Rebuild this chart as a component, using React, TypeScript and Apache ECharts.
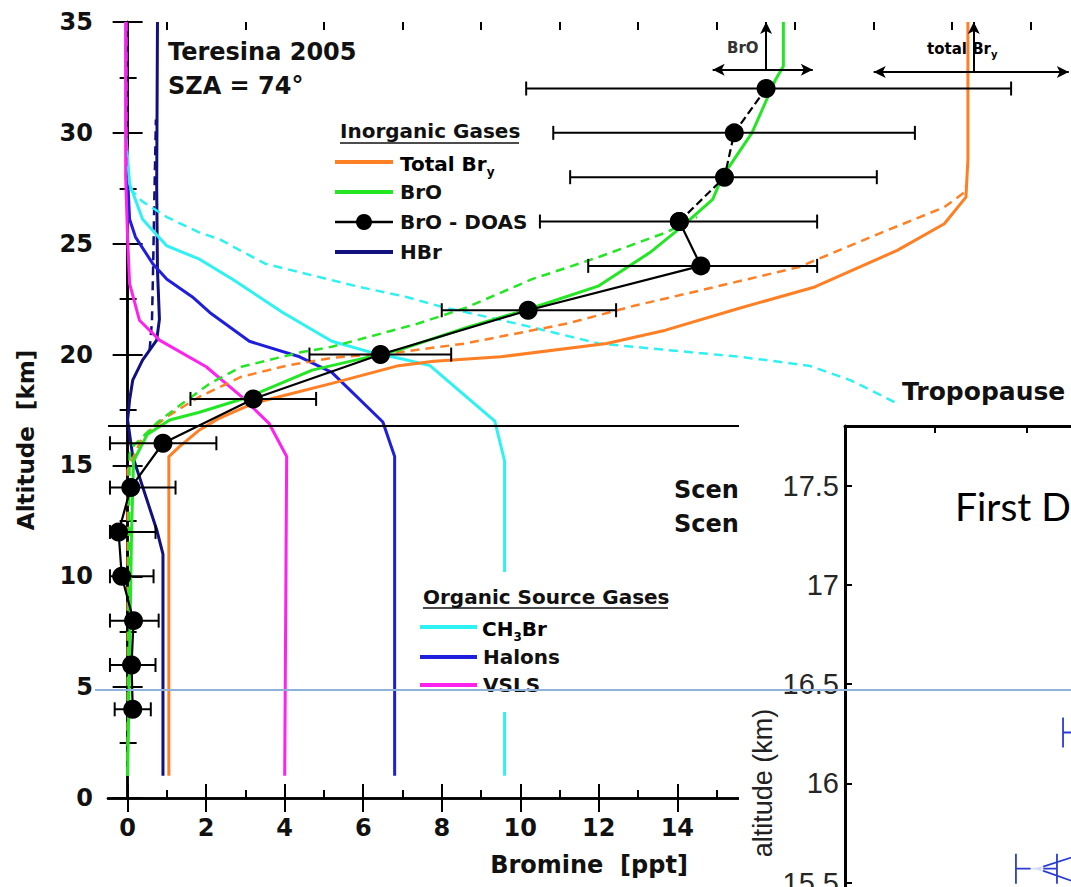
import React, { useEffect, useRef } from 'react';
import * as echarts from 'echarts';

// ---------- main chart data: [Bromine ppt, Altitude km] ----------
const xMajorTicks = [0, 2, 4, 6, 8, 10, 12, 14, 16, 18, 20, 22, 24];
const xMinorTicks = [1, 3, 5, 7, 9, 11, 13, 15, 17, 19, 21, 23];
const xTickLabels = [0, 2, 4, 6, 8, 10, 12, 14];

const totalBry = [
  [1.05, 1], [1.05, 15.4], [1.32, 15.85], [1.83, 16.6], [2.3, 17.1], [3.2, 17.8], [5.2, 18.7],
  [6.9, 19.5], [7.8, 19.7], [9.5, 19.9], [12.2, 20.5], [13.7, 21.1], [15.6, 22.1], [17.5, 23.05],
  [19.6, 24.7], [20.8, 25.9], [21.35, 27.1], [21.4, 28.8], [21.4, 35],
];
const totalBryAlt = [
  [0, 1], [0, 14.8], [0.38, 16.3], [1.0, 17.2], [1.83, 18.1], [2.9, 19.0], [4.05, 19.5], [5.2, 19.85],
  [6.9, 20.1], [8.6, 20.5], [11.2, 21.4], [12.9, 22.2], [14.6, 22.9], [17.1, 23.95], [19.2, 25.5],
  [20.8, 26.65], [21.3, 27.3], [21.35, 27.6],
];
const bro = [
  [0, 1], [0.1, 12], [0.15, 15.2], [0.5, 16.4], [1.07, 17.05], [1.83, 17.4], [3.1, 18.1], [4.7, 19.3],
  [6.9, 20.2], [8.6, 21.2], [10.3, 22.1], [12.0, 23.1], [13.3, 24.6], [14.1, 25.75], [14.9, 27.0],
  [15.14, 28], [15.9, 30], [16.5, 32.4], [16.7, 33], [16.7, 35],
];
const broAlt = [
  [0, 1], [0.05, 15.5], [0.1, 15.8], [0.77, 16.96], [1.4, 17.8], [2.1, 18.7], [2.9, 19.45], [4.4, 20.1],
  [5.2, 20.35], [7.4, 21.4], [8.6, 22.1], [10.3, 23.4], [12.0, 24.4], [13.7, 25.5], [14.5, 26.2],
];
const ch3br = [
  [9.6, 1], [9.6, 15.2], [9.35, 17.0], [7.7, 19.5], [7.0, 19.8], [6.2, 20.1], [5.2, 20.6], [3.95, 21.9],
  [2.67, 23.4], [1.83, 24.3], [1.0, 24.9], [0.38, 26.1], [0.05, 27.7], [-0.05, 30], [-0.05, 35],
];
const ch3brAlt = [
  [0.05, 27.5], [0.38, 26.9], [1.0, 26.2], [1.83, 25.5], [2.34, 25.2], [3.5, 24.1], [5.9, 23.05],
  [7.1, 22.6], [8.0, 22.15], [9.9, 21.4], [12.0, 20.5], [14.55, 20.07], [15.6, 19.9], [17.35, 19.5],
  [18.4, 18.85], [19.6, 17.8],
];
const vsls = [
  [4.0, 1], [4.05, 15.4], [3.6, 16.9], [2.9, 18.1], [2.0, 19.45], [0.81, 20.65], [0.3, 21.55],
  [0.05, 23.2], [0, 25.2], [-0.05, 28], [-0.05, 35],
];
const vslsAlt = [[-0.03, 28.5], [-0.03, 35]];
const halons = [
  [6.8, 1], [6.8, 15.4], [6.5, 16.96], [5.2, 19.2], [4.38, 19.9], [3.1, 20.6], [2.09, 21.9], [1.65, 22.6],
  [1.0, 23.4], [0.64, 24.1], [0.2, 25.3], [0.05, 26.1], [0, 28],
];
const hbr = [
  [0.9, 1], [0.9, 11.0], [0.74, 12.1], [0.13, 15.4], [0, 17.05], [0.05, 17.95], [0.13, 18.85],
  [0.38, 19.75], [0.74, 20.65], [0.81, 21.6], [0.76, 23.8], [0.74, 27.6], [0.76, 35],
];
const hbrAlt = [[0.56, 20.2], [0.62, 21.5], [0.65, 24], [0.68, 27], [0.72, 30.6]];

const doasAlt = [4, 6, 8, 10, 12, 14, 16, 18, 20, 22, 24, 26, 28, 30, 32];
const doasVal = [0.13, 0.1, 0.15, -0.15, -0.23, 0.08, 0.9, 3.2, 6.44, 10.2, 14.6, 14.05, 15.2, 15.45, 16.26];
const doasLow = [-0.33, -0.45, -0.45, -0.45, -0.45, -0.45, -0.45, 1.6, 4.63, 8.0, 11.73, 10.5, 11.27, 10.84, 10.15];
const doasHigh = [0.59, 0.71, 0.79, 0.66, 0.71, 1.22, 2.26, 4.8, 8.24, 12.44, 17.56, 17.56, 19.08, 20.05, 22.5];
const doasDashFromIndex = 11; // segments above 26 km drawn dashed

const tropopauseKm = 16.8;

// ---------- inset data ----------
const insetYTicks = [15.5, 16, 16.5, 17, 17.5];
const insetXTicks = [1, 2, 3, 4, 5, 6, 7, 8, 9];
const insetAlt = [16.256, 15.57];
const insetVal = [2.8, 2.107];
const insetLow = [2.39, 1.878];
const insetHigh = [3.2, 2.324];
const insetLink = [[2.9, 15.689], [2.107, 15.57], [2.9, 15.44]];

const C = {
  orange: '#ff7f24',
  green: '#24e624',
  cyan: '#2ef2f2',
  blue: '#1e1edc',
  navy: '#10107e',
  magenta: '#ff22ee',
  ink: '#111111',
  insetBlue: '#2a3ccf',
};
const FONT = 'DejaVu Sans';

function lineSeries(name: string, data: number[][], color: string, dashed = false, width = 3) {
  return {
    name,
    type: 'line',
    data,
    xAxisIndex: 0,
    yAxisIndex: 0,
    showSymbol: false,
    symbol: 'none',
    lineStyle: { color, width: dashed ? 2.5 : width, type: dashed ? [9, 6] : 'solid' },
    z: 2,
  };
}

function bTxt(x: number, y: number, text: string, size: number, extra: any = {}) {
  return {
    type: 'text',
    x,
    y,
    z: 60,
    style: {
      text,
      fontSize: size,
      fontWeight: 'bold',
      fontFamily: FONT,
      fill: C.ink,
      textAlign: 'left',
      textVerticalAlign: 'middle',
      ...extra,
    },
  };
}

function legLine(x1: number, x2: number, y: number, color: string, width = 4) {
  return { type: 'line', z: 60, shape: { x1, y1: y, x2, y2: y }, style: { stroke: color, lineWidth: width } };
}

function errorBarRender(color: string, capHalf: number, width: number) {
  return (params: any, api: any) => {
    const lo = api.coord([api.value(0), api.value(2)]);
    const hi = api.coord([api.value(1), api.value(2)]);
    const st = { stroke: color, lineWidth: width };
    return {
      type: 'group',
      children: [
        { type: 'line', shape: { x1: lo[0], y1: lo[1], x2: hi[0], y2: hi[1] }, style: st },
        { type: 'line', shape: { x1: lo[0], y1: lo[1] - capHalf, x2: lo[0], y2: lo[1] + capHalf }, style: st },
        { type: 'line', shape: { x1: hi[0], y1: hi[1] - capHalf, x2: hi[0], y2: hi[1] + capHalf }, style: st },
      ],
    };
  };
}

export default function App() {
  const ref = useRef<HTMLDivElement>(null);

  useEffect(() => {
    if (!ref.current) return;
    const chart = echarts.init(ref.current, undefined, { renderer: 'svg' });

    const axisLineStyle = { color: '#000', width: 2.5 };
    const tickStyle = { color: '#000', width: 2 };
    const labelStyle = { fontFamily: FONT, fontWeight: 'bold', fontSize: 24, color: C.ink };

    const subRich = {
      n: { fontFamily: FONT, fontWeight: 'bold', fontSize: 20, color: C.ink, lineHeight: 28, verticalAlign: 'middle' },
      s: { fontFamily: FONT, fontWeight: 'bold', fontSize: 12, color: C.ink, lineHeight: 28, verticalAlign: 'bottom' },
    };
    const subRichSmall = {
      n: { fontFamily: FONT, fontWeight: 'bold', fontSize: 15, color: '#333', lineHeight: 20, verticalAlign: 'middle' },
      s: { fontFamily: FONT, fontWeight: 'bold', fontSize: 10, color: '#333', lineHeight: 20, verticalAlign: 'bottom' },
    };

    const graphic: any[] = [
      // titles
      bTxt(168, 52, 'Teresina 2005', 24),
      bTxt(168, 86, 'SZA = 74°', 24),
      // inorganic legend
      bTxt(340, 131, 'Inorganic Gases', 20),
      { type: 'line', z: 60, shape: { x1: 340, y1: 143, x2: 519, y2: 143 }, style: { stroke: C.ink, lineWidth: 1.5 } },
      legLine(335, 393, 162, C.orange),
      { type: 'text', x: 400, y: 164, z: 60, style: { text: '{n|Total Br}{s|y}', rich: subRich, textVerticalAlign: 'middle' } },
      legLine(335, 393, 192, C.green),
      bTxt(400, 192, 'BrO', 20),
      legLine(335, 393, 222, '#000', 2.5),
      { type: 'circle', z: 61, shape: { cx: 364, cy: 222, r: 8 }, style: { fill: '#000' } },
      bTxt(400, 222, 'BrO - DOAS', 20),
      legLine(335, 393, 252, C.navy),
      bTxt(400, 252, 'HBr', 20),
      // organic legend with white box
      { type: 'rect', z: 50, shape: { x: 416, y: 572, width: 258, height: 140 }, style: { fill: '#fff' } },
      bTxt(423, 597, 'Organic Source Gases', 20),
      { type: 'line', z: 60, shape: { x1: 423, y1: 608, x2: 668, y2: 608 }, style: { stroke: C.ink, lineWidth: 1.5 } },
      legLine(420, 477, 627, C.cyan),
      { type: 'text', x: 482, y: 629, z: 60, style: { text: '{n|CH}{s|3}{n|Br}', rich: subRich, textVerticalAlign: 'middle' } },
      legLine(420, 477, 657, C.blue),
      bTxt(483, 657, 'Halons', 20),
      legLine(420, 477, 685, C.magenta),
      bTxt(483, 685, 'VSLS', 20),
      // annotations
      bTxt(902, 391, 'Tropopause', 25),
      bTxt(674, 490, 'Scen', 24),
      bTxt(674, 524, 'Scen', 24),
      bTxt(727, 48, 'BrO', 15, { fill: '#333' }),
      { type: 'text', x: 927, y: 49, z: 60, style: { text: '{n|total Br}{s|y}', rich: subRichSmall, textVerticalAlign: 'middle' } },
      // y-axis title
      {
        type: 'text', x: 26, y: 440, rotation: Math.PI / 2, z: 60,
        style: { text: 'Altitude  [km]', fontSize: 23, fontWeight: 'bold', fontFamily: FONT, fill: C.ink, textAlign: 'center', textVerticalAlign: 'middle' },
      },
      // inset paper
      { type: 'rect', z: 100, shape: { x: 739, y: 414, width: 340, height: 480 }, style: { fill: '#fff' } },
      {
        type: 'text', x: 955, y: 506, z: 130,
        style: { text: 'First D', fontSize: 39, fontFamily: 'Lato', fill: '#000', textAlign: 'left', textVerticalAlign: 'middle' },
      },
      {
        type: 'text', x: 763, y: 783, rotation: Math.PI / 2, z: 130,
        style: { text: 'altitude (km)', fontSize: 27, fontFamily: 'Liberation Sans', fill: '#222', textAlign: 'center', textVerticalAlign: 'middle' },
      },
      // slide guide line
      { type: 'line', z: 200, shape: { x1: 95, y1: 690, x2: 1071, y2: 690 }, style: { stroke: '#8fb1da', lineWidth: 2 } },
    ];

    const arrowLine = { color: '#000', width: 2, type: 'solid' };
    const doasData = doasAlt.map((a, i) => [doasVal[i], a]);

    const option: any = {
      animation: false,
      backgroundColor: '#ffffff',
      grid: [
        { left: 108, top: 22, width: 962, height: 776, outerBoundsMode: 'none', containLabel: false },
        { left: 845, top: 426, width: 920, height: 461.5, outerBoundsMode: 'none', containLabel: false },
      ],
      xAxis: [
        {
          gridIndex: 0, type: 'value', min: -0.5, max: 24, position: 'bottom',
          axisLine: { show: true, lineStyle: axisLineStyle },
          axisTick: { show: true, inside: true, length: 14, lineStyle: tickStyle, customValues: xMajorTicks },
          axisLabel: { show: true, customValues: xTickLabels, margin: 18, ...labelStyle },
          splitLine: { show: false },
          name: 'Bromine  [ppt]', nameLocation: 'middle', nameGap: 55,
          nameTextStyle: { fontFamily: FONT, fontWeight: 'bold', fontSize: 24, color: C.ink },
        },
        {
          gridIndex: 0, type: 'value', min: -0.5, max: 24, position: 'top',
          axisLine: { show: true, lineStyle: axisLineStyle },
          axisTick: { show: true, inside: true, length: 14, lineStyle: tickStyle, customValues: xMajorTicks },
          axisLabel: { show: false }, splitLine: { show: false },
        },
        {
          gridIndex: 0, type: 'value', min: -0.5, max: 24, position: 'bottom',
          axisLine: { show: false },
          axisTick: { show: true, inside: true, length: 8, lineStyle: tickStyle, customValues: xMinorTicks },
          axisLabel: { show: false }, splitLine: { show: false },
        },
        {
          gridIndex: 0, type: 'value', min: -0.5, max: 24, position: 'top',
          axisLine: { show: false },
          axisTick: { show: true, inside: true, length: 8, lineStyle: tickStyle, customValues: xMinorTicks },
          axisLabel: { show: false }, splitLine: { show: false },
        },
        {
          gridIndex: 1, type: 'value', min: 0.02, max: 10.02, position: 'top', z: 120,
          axisLine: { show: true, lineStyle: { color: '#000', width: 3 } },
          axisTick: { show: true, inside: true, length: 7, lineStyle: { color: '#000', width: 2 }, customValues: insetXTicks },
          axisLabel: { show: false }, splitLine: { show: false },
        },
      ],
      yAxis: [
        {
          gridIndex: 0, type: 'value', min: 0, max: 35, interval: 5, position: 'left',
          axisLine: { show: true, lineStyle: axisLineStyle },
          axisTick: { show: true, inside: true, length: 15, lineStyle: tickStyle },
          minorTick: { show: true, splitNumber: 2, length: 9, lineStyle: tickStyle },
          axisLabel: { show: true, margin: 15, ...labelStyle },
          splitLine: { show: false }, minorSplitLine: { show: false },
        },
        {
          gridIndex: 0, type: 'value', min: 0, max: 35, interval: 5, position: 'right',
          axisLine: { show: true, lineStyle: axisLineStyle },
          axisTick: { show: true, inside: true, length: 15, lineStyle: tickStyle },
          minorTick: { show: true, splitNumber: 2, length: 8, lineStyle: tickStyle },
          axisLabel: { show: false },
          splitLine: { show: false }, minorSplitLine: { show: false },
        },
        {
          gridIndex: 1, type: 'value', min: 15.475, max: 17.8, position: 'left', z: 120,
          axisLine: { show: true, lineStyle: { color: '#000', width: 3 } },
          axisTick: { show: true, inside: true, length: 7, lineStyle: { color: '#000', width: 2 }, customValues: insetYTicks },
          axisLabel: {
            show: true, customValues: insetYTicks, margin: 6,
            fontFamily: 'Liberation Sans', fontSize: 29, color: '#262626',
            formatter: (v: number) => String(v),
          },
          splitLine: { show: false },
        },
      ],
      graphic,
      series: [
        lineSeries('HBr dashed', hbrAlt, C.navy, true),
        lineSeries('HBr', hbr, C.navy),
        lineSeries('Halons', halons, C.blue),
        lineSeries('CH3Br', ch3br, C.cyan),
        lineSeries('CH3Br dashed', ch3brAlt, C.cyan, true),
        lineSeries('VSLS', vsls, C.magenta),
        lineSeries('VSLS dashed', vslsAlt, C.magenta, true),
        lineSeries('Total Bry', totalBry, C.orange),
        lineSeries('Total Bry dashed', totalBryAlt, C.orange, true),
        lineSeries('BrO', bro, C.green),
        lineSeries('BrO dashed', broAlt, C.green, true),
        {
          name: 'BrO - DOAS error',
          type: 'custom',
          xAxisIndex: 0,
          yAxisIndex: 0,
          z: 3,
          data: doasAlt.map((a, i) => [doasLow[i], doasHigh[i], a]),
          encode: { x: [0, 1], y: 2 },
          renderItem: errorBarRender('#000', 7, 2),
        },
        {
          name: 'BrO - DOAS',
          type: 'line',
          xAxisIndex: 0,
          yAxisIndex: 0,
          z: 4,
          data: doasData.slice(0, doasDashFromIndex + 1),
          symbol: 'circle',
          symbolSize: 19,
          itemStyle: { color: '#000' },
          lineStyle: { color: '#000', width: 2.2 },
          markLine: {
            silent: true,
            label: { show: false },
            symbolSize: [9, 12],
            lineStyle: arrowLine,
            data: [
              [{ coord: [-0.5, tropopauseKm], symbol: 'none' }, { coord: [24, tropopauseKm], symbol: 'none' }],
              [{ coord: [14.9, 32.85], symbol: 'arrow' }, { coord: [17.45, 32.85], symbol: 'arrow' }],
              [{ coord: [16.26, 32.85], symbol: 'none' }, { coord: [16.26, 35], symbol: 'arrow' }],
              [{ coord: [19.0, 32.75], symbol: 'arrow' }, { coord: [23.97, 32.75], symbol: 'arrow' }],
              [{ coord: [21.55, 32.75], symbol: 'none' }, { coord: [21.55, 35], symbol: 'arrow' }],
            ],
          },
        },
        {
          name: 'BrO - DOAS upper',
          type: 'line',
          xAxisIndex: 0,
          yAxisIndex: 0,
          z: 4,
          data: doasData.slice(doasDashFromIndex),
          symbol: 'circle',
          symbolSize: 19,
          itemStyle: { color: '#000' },
          lineStyle: { color: '#000', width: 2.2, type: [8, 4] },
        },
        // inset
        {
          name: 'inset link',
          type: 'line',
          xAxisIndex: 4,
          yAxisIndex: 2,
          z: 120,
          data: insetLink,
          showSymbol: false,
          symbol: 'none',
          lineStyle: { color: C.insetBlue, width: 1.8 },
        },
        {
          name: 'inset error',
          type: 'custom',
          xAxisIndex: 4,
          yAxisIndex: 2,
          z: 120,
          data: insetAlt.map((a, i) => [insetLow[i], insetHigh[i], a]),
          encode: { x: [0, 1], y: 2 },
          renderItem: errorBarRender(C.insetBlue, 15, 1.8),
        },
        {
          name: 'inset points',
          type: 'scatter',
          xAxisIndex: 4,
          yAxisIndex: 2,
          z: 121,
          data: insetAlt.map((a, i) => [insetVal[i], a]),
          symbol: 'emptyCircle',
          symbolSize: 11,
          itemStyle: { color: '#fff', borderColor: C.insetBlue, borderWidth: 1.8 },
        },
      ],
    };

    chart.setOption(option);
    return () => chart.dispose();
  }, []);

  return (
    <div style={{ position: 'fixed', left: 0, top: 0, width: 1071, height: 887, background: '#fff' }}>
      <div ref={ref} style={{ width: 1071, height: 887 }} />
    </div>
  );
}
